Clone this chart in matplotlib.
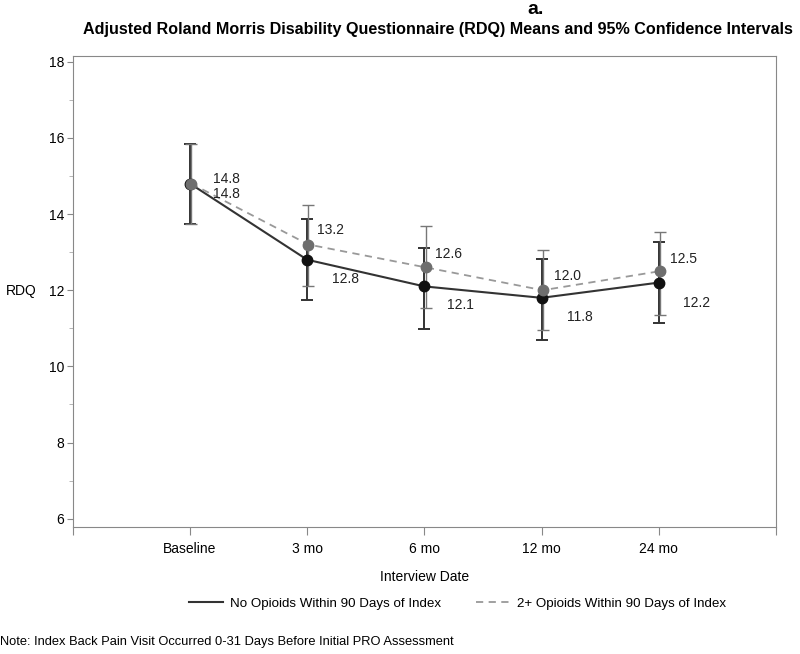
import matplotlib
matplotlib.use("Agg")
import matplotlib.pyplot as plt
from matplotlib.ticker import MultipleLocator, FixedLocator

plt.rcParams['font.family'] = ['Liberation Sans', 'DejaVu Sans']

visits = ["Baseline", "3 mo", "6 mo", "12 mo", "24 mo"]

no_opioid_mean = [14.8, 12.8, 12.1, 11.8, 12.2]
no_opioid_low = [13.74, 11.74, 10.99, 10.69, 11.14]
no_opioid_high = [15.83, 13.86, 13.10, 12.81, 13.26]

opioid_mean = [14.8, 13.2, 12.6, 12.0, 12.5]
opioid_low = [13.74, 12.11, 11.54, 10.95, 11.36]
opioid_high = [15.83, 14.23, 13.68, 13.05, 13.52]

# label offsets in pixels (SAS placed them to avoid overlap)
black_off = [(36, -10), (38, -19), (36, -19), (38, -19), (38, -20)]
gray_off = [(35, 5), (22, 15), (23, 13), (25, 14), (24, 12)]

fig = plt.figure(figsize=(8, 6.54), dpi=100)
ax = fig.add_axes([0.091, 0.194, 0.879, 0.721])

x = list(range(1, len(visits) + 1))
xg = [v + 0.01 for v in x]

blk = "#111111"
gry = "#6e6e6e"

ax.errorbar(x, no_opioid_mean,
            yerr=[[m - l for m, l in zip(no_opioid_mean, no_opioid_low)],
                  [h - m for m, h in zip(no_opioid_mean, no_opioid_high)]],
            fmt="none", ecolor="#333333", elinewidth=1.4, capsize=4, capthick=1.4, zorder=2)
ax.errorbar(xg, opioid_mean,
            yerr=[[m - l for m, l in zip(opioid_mean, opioid_low)],
                  [h - m for m, h in zip(opioid_mean, opioid_high)]],
            fmt="none", ecolor="#777777", elinewidth=1.0, capsize=4, capthick=1.0, zorder=2)

ax.plot(x, no_opioid_mean, color="#333333", lw=1.5, zorder=3,
        label="No Opioids Within 90 Days of Index")
ax.plot(xg, opioid_mean, color="#999999", lw=1.3, ls=(0, (4, 3)), zorder=3,
        label="2+ Opioids Within 90 Days of Index")
ax.plot(x, no_opioid_mean, "o", color=blk, ms=7.5, zorder=4)
ax.plot(xg, opioid_mean, "o", color=gry, ms=7.5, zorder=5)

for xi, m, off in zip(x, no_opioid_mean, black_off):
    ax.annotate(f"{m:.1f}", (xi, m), xytext=off, textcoords="offset pixels",
                ha="center", va="center", fontsize=10, color="#222222")
for xi, m, off in zip(xg, opioid_mean, gray_off):
    ax.annotate(f"{m:.1f}", (xi, m), xytext=off, textcoords="offset pixels",
                ha="center", va="center", fontsize=10, color="#222222")

ax.set_xlim(0, 6)
ax.set_ylim(5.78, 18.16)
ax.xaxis.set_major_locator(FixedLocator(range(0, 7)))
ax.set_xticklabels([""] + visits + [""], fontsize=10)
ax.yaxis.set_major_locator(MultipleLocator(2))
ax.yaxis.set_minor_locator(MultipleLocator(1))
ax.tick_params(axis="x", length=6, color="#888888", pad=5)
ax.tick_params(axis="y", which="major", length=4, color="#888888", labelsize=10, pad=2)
ax.tick_params(axis="y", which="minor", length=3, color="#aaaaaa")
for s in ax.spines.values():
    s.set_color("#888888")

ax.set_xlabel("Interview Date", fontsize=10, labelpad=10)
ax.set_ylabel("RDQ", fontsize=10, rotation=0, labelpad=20, va="center")

fig.text(0.669, 0.985, "a.", fontsize=14, fontweight="bold", ha="center", va="center")
fig.text(0.548, 0.955, "Adjusted Roland Morris Disability Questionnaire (RDQ) Means and 95% Confidence Intervals",
         fontsize=11.6, fontweight="bold", ha="center", va="center")

fig.legend(loc="center", bbox_to_anchor=(0.572, 0.077), ncol=2, frameon=False,
           fontsize=9.6, handlelength=2.6, handletextpad=0.5, columnspacing=2.6)

fig.text(0.0, 0.018, "Note: Index Back Pain Visit Occurred 0-31 Days Before Initial PRO Assessment",
         fontsize=9.3, ha="left", va="center")

fig.savefig("out.png", dpi=100)
